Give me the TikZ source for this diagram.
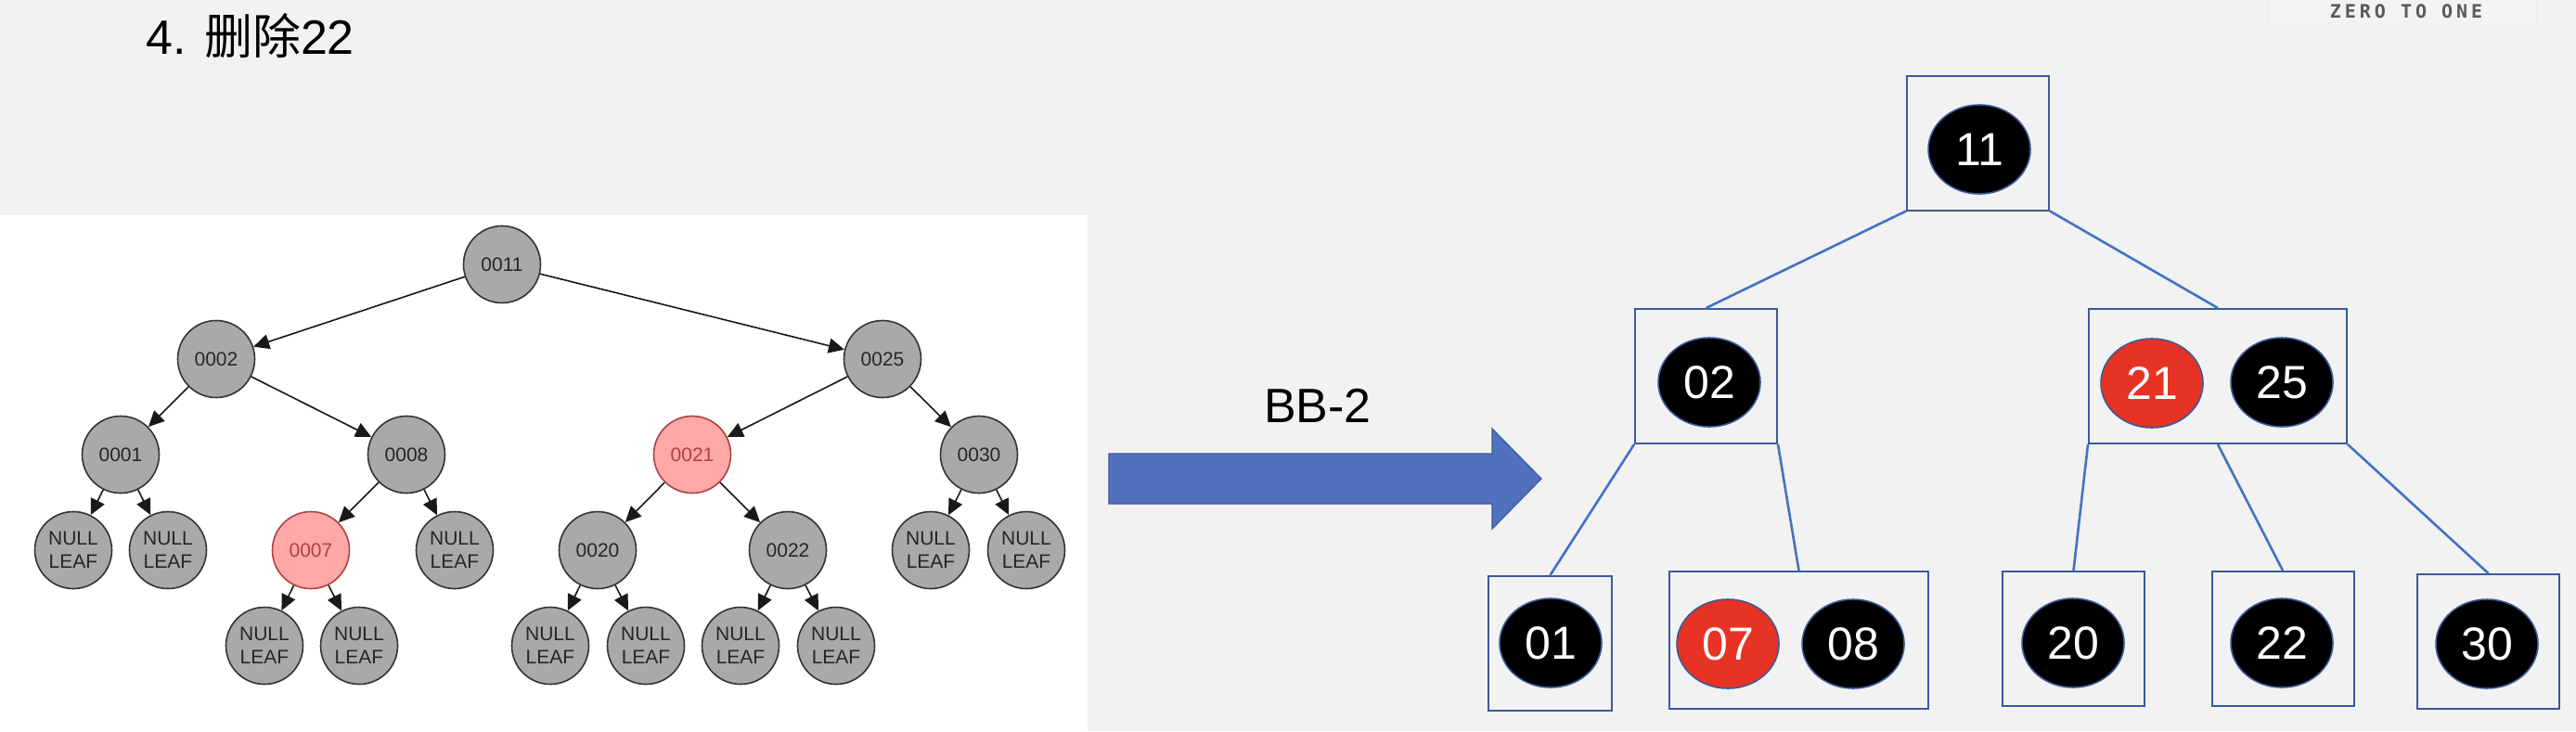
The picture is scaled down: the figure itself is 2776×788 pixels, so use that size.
\documentclass[tikz,border=0pt]{standalone}
\usepackage{xcolor}
\usepackage{fontspec}
\setmainfont{Liberation Sans}
\newfontfamily\cjk{Noto Sans CJK SC}
\newfontfamily\logofont[LetterSpace=20]{DejaVu Sans Mono}
\usepackage{tikz}
\usetikzlibrary{arrows.meta,shapes.geometric}

\definecolor{bgray}{HTML}{F2F2F2}
\definecolor{ngray}{HTML}{A9A9A9}
\definecolor{nline}{HTML}{333333}
\definecolor{npink}{HTML}{FFA8A8}
\definecolor{nred}{HTML}{B04040}
\definecolor{bline}{HTML}{3B5A9A}
\definecolor{eblue}{HTML}{4472C4}
\definecolor{kred}{HTML}{E63323}
\definecolor{ablue}{HTML}{4F71BE}

\begin{document}
\begin{tikzpicture}[x=0.5pt,y=-0.5pt,
    rbn/.style={circle,draw=nline,fill=ngray,line width=0.8pt,minimum size=41.5pt,inner sep=0pt,
        text=black!85,align=center,font=\fontsize{10.5}{12.5}\selectfont},
    rbred/.style={rbn,draw=nred,fill=npink,text=nred},
    rbedge/.style={draw=black!90,line width=0.8pt,-{Triangle[length=8.5pt,width=8pt]}},
    bbox/.style={draw=bline,line width=1pt,minimum width=76.5pt,minimum height=72.5pt,inner sep=0pt},
    bkey/.style={ellipse,draw=bline,line width=0.8pt,fill=black,text=white,minimum width=55pt,
        minimum height=48pt,inner sep=0pt,font=\fontsize{25}{25}\selectfont},
    rkey/.style={bkey,fill=kred},
    bbedge/.style={draw=eblue,line width=1.3pt}]
    \fill[bgray] (0,0) rectangle (2776,788);
    \fill[white] (0,232) rectangle (1172,788);
    \useasboundingbox (0,0) rectangle (2776,788);

    \node[anchor=base west,inner sep=0pt,font=\fontsize{26}{30}\selectfont] (title) at (157,58) {4. {\cjk 删除}22};
    \draw[draw=black!7,fill=white!10!bgray,line width=0.4pt] (2443,-2) rectangle (2733,31);
    \node[text=black!65,font=\logofont\bfseries\fontsize{10}{12}\selectfont] (logo) at (2593,12) {ZERO TO ONE};

    \node[rbn] (n11) at (541,285) {0011};
    \node[rbn] (n02) at (233,387) {0002};
    \node[rbn] (n25) at (951,387) {0025};
    \node[rbn] (n01) at (130,490) {0001};
    \node[rbn] (n08) at (438,490) {0008};
    \node[rbred] (n21) at (746,490) {0021};
    \node[rbn] (n30) at (1055,490) {0030};
    \node[rbn] (l1) at (79,593) {NULL\\LEAF};
    \node[rbn] (l2) at (181,593) {NULL\\LEAF};
    \node[rbred] (n07) at (335,593) {0007};
    \node[rbn] (l3) at (490,593) {NULL\\LEAF};
    \node[rbn] (n20) at (644,593) {0020};
    \node[rbn] (n22) at (849,593) {0022};
    \node[rbn] (l4) at (1003,593) {NULL\\LEAF};
    \node[rbn] (l5) at (1106,593) {NULL\\LEAF};
    \node[rbn] (l6) at (285,696) {NULL\\LEAF};
    \node[rbn] (l7) at (387,696) {NULL\\LEAF};
    \node[rbn] (l8) at (593,696) {NULL\\LEAF};
    \node[rbn] (l9) at (696,696) {NULL\\LEAF};
    \node[rbn] (l10) at (798,696) {NULL\\LEAF};
    \node[rbn] (l11) at (901,696) {NULL\\LEAF};

    \draw[rbedge] (n11) -- (n02);
    \draw[rbedge] (n11) -- (n25);
    \draw[rbedge] (n02) -- (n01);
    \draw[rbedge] (n02) -- (n08);
    \draw[rbedge] (n25) -- (n21);
    \draw[rbedge] (n25) -- (n30);
    \draw[rbedge] (n01) -- (l1);
    \draw[rbedge] (n01) -- (l2);
    \draw[rbedge] (n08) -- (n07);
    \draw[rbedge] (n08) -- (l3);
    \draw[rbedge] (n21) -- (n20);
    \draw[rbedge] (n21) -- (n22);
    \draw[rbedge] (n30) -- (l4);
    \draw[rbedge] (n30) -- (l5);
    \draw[rbedge] (n07) -- (l6);
    \draw[rbedge] (n07) -- (l7);
    \draw[rbedge] (n20) -- (l8);
    \draw[rbedge] (n20) -- (l9);
    \draw[rbedge] (n22) -- (l10);
    \draw[rbedge] (n22) -- (l11);

    \node[anchor=base,font=\fontsize{26}{30}\selectfont] (bb) at (1420,455) {BB-2};
    \draw[fill=ablue,draw=bline,line width=0.6pt] (1195,489) -- (1608,489) -- (1608,462) -- (1661,516)
        -- (1608,570) -- (1608,543) -- (1195,543) -- cycle;

    \node[bbox] (b11) at (2131.5,154) {};
    \node[bbox] (b02) at (1838.5,405.5) {};
    \node[bbox,minimum width=139pt] (b2125) at (2390,405.5) {};
    \node[bbox,minimum width=66.5pt] (b01) at (1670.5,693.5) {};
    \node[bbox,minimum width=139.5pt,minimum height=74pt] (b0708) at (1938.5,690) {};
    \node[bbox] (b20) at (2234.5,688.5) {};
    \node[bbox] (b22) at (2460,688.5) {};
    \node[bbox] (b30) at (2681.5,691.5) {};

    \node[bkey] (k11) at (2133,161) {11};
    \node[bkey] (k02) at (1842,412) {02};
    \node[rkey] (k21) at (2319,413) {21};
    \node[bkey] (k25) at (2459,412) {25};
    \node[bkey] (k01) at (1671,693) {01};
    \node[rkey] (k07) at (1862,694) {07};
    \node[bkey] (k08) at (1997,694) {08};
    \node[bkey] (k20) at (2234,693) {20};
    \node[bkey] (k22) at (2459,693) {22};
    \node[bkey] (k30) at (2680,694) {30};

    \draw[bbedge] (b11.south west) -- (b02.north);
    \draw[bbedge] (b11.south east) -- (b2125.north);
    \draw[bbedge] (b02.south west) -- (b01.north);
    \draw[bbedge] (b02.south east) -- (b0708.north);
    \draw[bbedge] (b2125.south west) -- (b20.north);
    \draw[bbedge] (b2125.south) -- (b22.north);
    \draw[bbedge] (b2125.south east) -- (b30.north);
\end{tikzpicture}
\end{document}
